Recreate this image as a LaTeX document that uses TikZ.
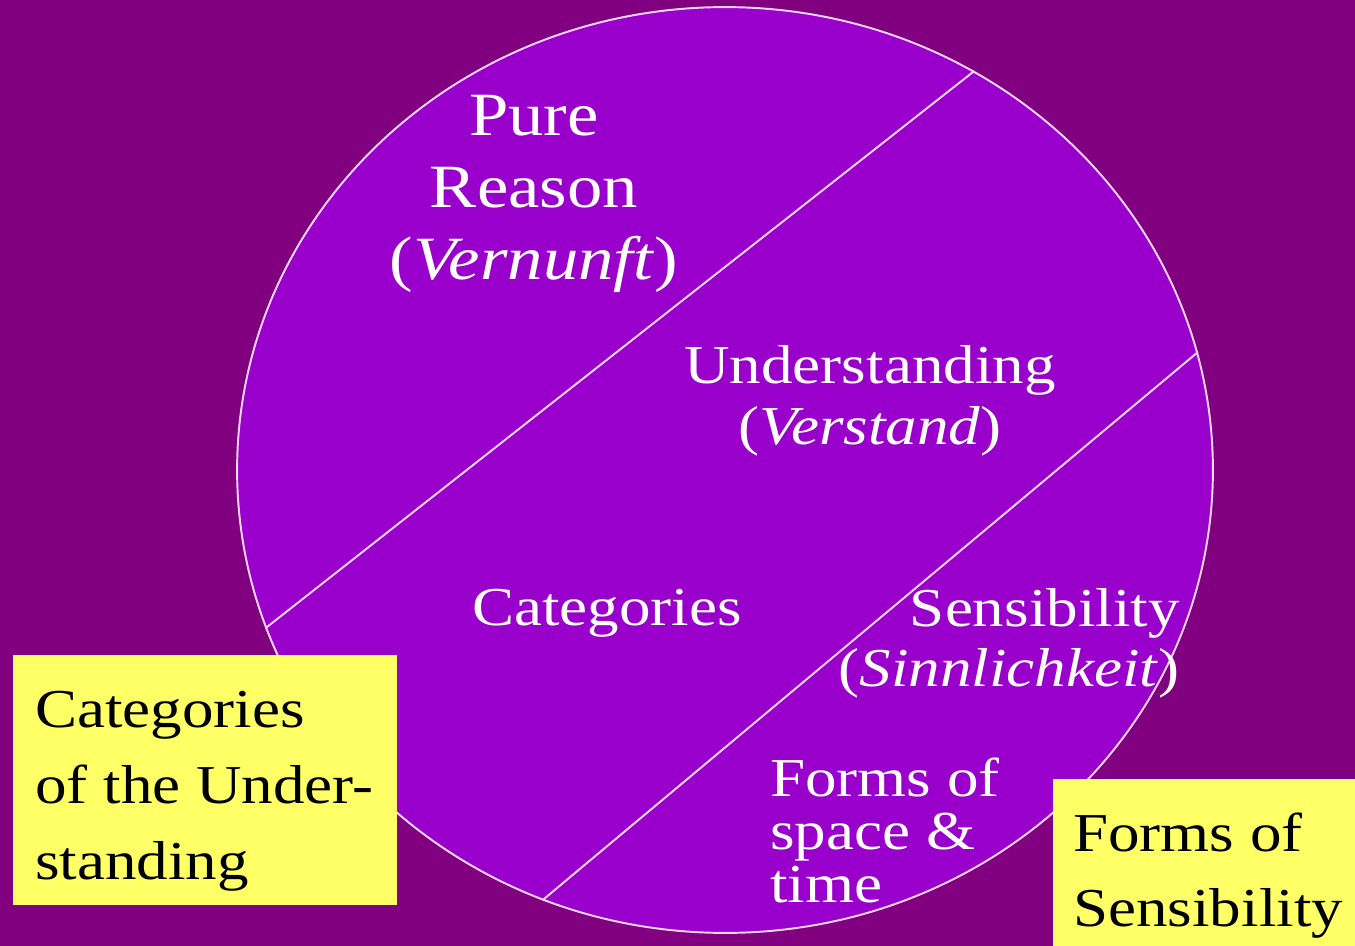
\documentclass[tikz,border=0pt]{standalone}
\usepackage{fontspec}
\setmainfont{Liberation Serif}[FakeStretch=1.15]
\usetikzlibrary{shapes.geometric,positioning}
\definecolor{bgpurple}{RGB}{128,0,128}
\definecolor{discviolet}{RGB}{153,0,204}
\definecolor{notepaper}{RGB}{255,255,102}
\definecolor{chalk}{RGB}{250,215,250}

\begin{document}
\begin{tikzpicture}[
    x=0.02cm, y=-0.02cm,
    disc/.style={ellipse, draw=chalk, fill=discviolet, line width=1.1pt, minimum width=19.52cm, minimum height=18.52cm, inner sep=0pt},
    divide/.style={draw=chalk, line width=1.1pt},
    lbl/.style={text=white, inner sep=0pt},
    notebox/.style={rectangle, fill=notepaper, inner sep=0pt, anchor=north west},
    notetext/.style={text=black, inner sep=0pt, align=left, anchor=north west}
]
\useasboundingbox (0,0) rectangle (1355,946);
\fill[bgpurple] (0,0) rectangle (1355,946);

% Nodes
\node[disc] (mind) at (725,470) {};
\node[lbl, align=center, anchor=north, font=\fontsize{35pt}{41pt}\selectfont] (reason) at (534,95) {Pure\\Reason\\(\textit{Vernunft})};
\node[lbl, align=center, anchor=north, font=\fontsize{31.2pt}{34.6pt}\selectfont] (verstand) at (870,345) {Understanding\\(\textit{Verstand})};
\node[lbl, anchor=base, font=\fontsize{31.2pt}{34.1pt}\selectfont] (cats) at (607,625) {Categories};
\node[lbl, align=right, anchor=north east, font=\fontsize{31.2pt}{34.1pt}\selectfont] (sinn) at (1180,588) {Sensibility\\(\textit{Sinnlichkeit})};
\node[lbl, align=left, anchor=north west, font=\fontsize{31.2pt}{30pt}\selectfont] (forms) at (770,758) {Forms of\\space \&\\time};

% Dividing lines
\draw[divide] (mind.58.1) -- (mind.199.6);
\draw[divide] (mind.14.6) -- (mind.247.2);

% Notes
\node[notebox, minimum width=7.68cm, minimum height=5cm] (catbox) at (13,655) {};
\node[notetext, font=\fontsize{31.2pt}{43.2pt}\selectfont] (cattext) at (35,691) {Categories\\of the Under-\\standing};
\node[notebox, minimum width=6.04cm, minimum height=3.34cm] (formbox) at (1053,779) {};
\node[notetext, font=\fontsize{31.2pt}{42.7pt}\selectfont] (formtext) at (1073,813) {Forms of\\Sensibility};

\end{tikzpicture}
\end{document}
